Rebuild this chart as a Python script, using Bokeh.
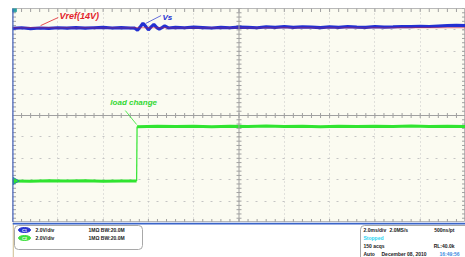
import numpy as np
from bokeh.plotting import figure
from bokeh.layouts import column
from bokeh.models import Range1d, FixedTicker, Span, Label, Arrow
from bokeh.embed import file_html
from bokeh.resources import INLINE

# ---------------- data (time in divisions 0..10, amplitude in divisions -5..5) ----------------
vs_t = [0.00, 0.20, 0.40, 0.60, 0.80, 1.00, 1.20, 1.40, 1.60, 1.80, 2.00, 2.20, 2.40, 2.60,
        2.70, 2.76, 2.83, 2.88, 2.95, 3.00, 3.06, 3.12, 3.18, 3.24, 3.30, 3.36, 3.44,
        3.60, 3.80, 4.00, 4.20, 4.40, 4.60, 4.80, 5.00, 5.20, 5.40, 5.60, 5.80, 6.00,
        6.20, 6.40, 6.60, 6.80, 7.00, 7.20, 7.40, 7.60, 7.80, 8.00, 8.20, 8.40, 8.60,
        8.80, 9.00, 9.20, 9.40, 9.60, 9.80, 10.00]
vs_v = [4.07, 4.10, 4.06, 4.09, 4.07, 4.10, 4.08, 4.11, 4.08, 4.10, 4.12, 4.09, 4.11, 4.09,
        4.08, 3.99, 4.17, 4.31, 4.14, 4.00, 4.14, 4.26, 4.12, 4.04, 4.11, 4.19, 4.09,
        4.12, 4.10, 4.13, 4.11, 4.09, 4.12, 4.10, 4.13, 4.12, 4.10, 4.14, 4.12, 4.15,
        4.12, 4.14, 4.13, 4.11, 4.14, 4.12, 4.15, 4.13, 4.12, 4.15, 4.13, 4.14, 4.16,
        4.15, 4.17, 4.16, 4.18, 4.20, 4.21, 4.20]

vref_t = [0.00, 10.00]
vref_v = [4.10, 4.10]

load_t = [0.00, 0.40, 0.80, 1.20, 1.60, 2.00, 2.40, 2.74, 2.75, 3.20, 3.60, 4.00, 4.40,
          4.80, 5.20, 5.60, 6.00, 6.40, 6.80, 7.20, 7.60, 8.00, 8.40, 8.80, 9.20, 9.60, 10.00]
load_v = [-3.06, -3.07, -3.05, -3.06, -3.05, -3.07, -3.06, -3.06, -0.52, -0.50, -0.51,
          -0.50, -0.52, -0.50, -0.51, -0.49, -0.51, -0.50, -0.52, -0.50, -0.51, -0.50,
          -0.51, -0.49, -0.51, -0.50, -0.51]
load_step_index = 7   # last sample before the load step

ch_labels = ["C1", "C2"]
ch_scale = ["2.0V/div", "2.0V/div"]
ch_input = ["1MΩ  BW:20.0M", "1MΩ  BW:20.0M"]

FONT = "Liberation Sans"
BLUE = "#2430d2"
RED = "#e2222a"
GREEN = "#30e430"
GRID = "#c4c4c4"
TICK = "#a0a0a0"

# ---------------- main scope screen ----------------
p = figure(width=465, height=222, x_range=Range1d(0, 10), y_range=Range1d(-5, 5),
           toolbar_location=None, output_backend="svg",
           x_axis_location=None, y_axis_location=None,
           min_border_left=12, min_border_right=0, min_border_top=8, min_border_bottom=0)
p.background_fill_color = "#fbfbf1"
p.border_fill_color = "white"
p.outline_line_color = "#b8b8b8"

p.xgrid.ticker = FixedTicker(ticks=[1, 2, 3, 4, 6, 7, 8, 9])
p.xgrid.grid_line_color = GRID
p.xgrid.grid_line_dash = "1 3"
p.ygrid.ticker = FixedTicker(ticks=[-4, -3, -2, -1, 1, 2, 3, 4])
p.ygrid.grid_line_color = GRID
p.ygrid.grid_line_dash = "2 7"

p.add_layout(Span(location=5, dimension="height", line_color=TICK, line_width=1))
p.add_layout(Span(location=0, dimension="width", line_color=TICK, line_width=1))

hx = np.arange(0, 10.001, 0.2)
vy = np.arange(-5, 5.001, 0.2)
p.scatter(hx, np.zeros_like(hx), marker="dash", angle=np.pi / 2, size=5, line_color=TICK)
p.scatter(hx, np.full_like(hx, 5.0), marker="dash", angle=np.pi / 2, size=7, line_color=TICK)
p.scatter(hx, np.full_like(hx, -5.0), marker="dash", angle=np.pi / 2, size=7, line_color=TICK)
p.scatter(np.full_like(vy, 5.0), vy, marker="dash", size=5, line_color=TICK)
p.scatter(np.full_like(vy, 10.0), vy, marker="dash", size=7, line_color=TICK)
p.scatter(np.full_like(vy, 0.0), vy, marker="dash", size=7, line_color=TICK)

p.add_layout(Span(location=0, dimension="height", line_color="#3a5fcd", line_width=2))

# traces
p.line(vs_t, vs_v, line_color=BLUE, line_width=3.2)
p.line(vref_t, vref_v, line_color=RED, line_width=1, line_alpha=0.55)
p.line(vs_t, vs_v, line_color=BLUE, line_width=1, line_alpha=0.6)
k = load_step_index
p.line(load_t[:k + 1], load_v[:k + 1], line_color=GREEN, line_width=3)
p.line(load_t[k:k + 2], load_v[k:k + 2], line_color=GREEN, line_width=1.2)
p.line(load_t[k + 1:], load_v[k + 1:], line_color=GREEN, line_width=3)

# ground markers
p.scatter([0.06], [load_v[0]], marker="triangle", angle=-np.pi / 2, size=7,
          fill_color=GREEN, line_color="#2a8aa0")
p.scatter([0.04], [4.94], marker="square", size=4, fill_color="#2aa0a0", line_color="#2aa0a0")

# annotations
p.add_layout(Arrow(end=None, x_start=0.62, y_start=4.20, x_end=1.01, y_end=4.58,
                   line_color=RED, line_width=1, line_alpha=0.8))
p.add_layout(Label(x=1.04, y=4.64, text="Vref(14V)", text_color=RED, text_font=FONT,
                   text_font_style="bold italic", text_font_size="9px", text_baseline="middle"))
p.add_layout(Arrow(end=None, x_start=2.94, y_start=4.30, x_end=3.28, y_end=4.67,
                   line_color=BLUE, line_width=1, line_alpha=0.7))
p.add_layout(Label(x=3.31, y=4.60, text="Vs", text_color=BLUE, text_font=FONT,
                   text_font_style="bold italic", text_font_size="8px", text_baseline="middle"))
p.add_layout(Arrow(end=None, x_start=2.49, y_start=0.23, x_end=2.74, y_end=-0.42,
                   line_color=GREEN, line_width=1, line_alpha=0.8))
p.add_layout(Label(x=2.16, y=0.61, text="load change", text_color="#33d833", text_font=FONT,
                   text_font_style="bold italic", text_font_size="8px", text_baseline="middle"))

# ---------------- info panel below (frame aligned with the screen above) ----------------
q = figure(width=465, height=35, x_range=Range1d(12, 465), y_range=Range1d(257, 222),
           toolbar_location=None, output_backend="svg",
           x_axis_location=None, y_axis_location=None,
           min_border_left=12, min_border_right=0, min_border_top=0, min_border_bottom=0)
q.grid.visible = False
q.outline_line_color = None
q.background_fill_color = "white"
q.border_fill_color = "white"

q.segment(x0=[12.7], y0=[222], x1=[12.7], y1=[257], line_color="#d8c9a4", line_width=1.5)
q.segment(x0=[12], y0=[223], x1=[465], y1=[223], line_color="#3a64c8", line_width=2)

q.quad(left=[14], right=[142], top=[225], bottom=[249], fill_color="white",
       line_color="#a8a8a8", line_width=1, border_radius=4)
q.quad(left=[360], right=[470], top=[225], bottom=[262], fill_color="white",
       line_color="#a8a8a8", line_width=1, border_radius=4)

row_y = [229.5, 237.5]
pill_col = ["#2a36d0", "#3ee03e"]
q.ellipse(x=[24, 24], y=row_y, width=12, height=5, fill_color=pill_col, line_color=pill_col)
for i in range(2):
    q.add_layout(Label(x=24, y=row_y[i], text=ch_labels[i], text_color="white", text_font=FONT,
                       text_font_style="bold", text_font_size="4px",
                       text_align="center", text_baseline="middle"))
    q.add_layout(Label(x=35, y=row_y[i], text=ch_scale[i], text_color="#222222", text_font=FONT,
                       text_font_style="bold", text_font_size="5px", text_baseline="middle"))
    q.add_layout(Label(x=88, y=row_y[i], text=ch_input[i], text_color="#222222", text_font=FONT,
                       text_font_style="bold", text_font_size="5px", text_baseline="middle"))

def info(x, y, t, c="#222222", align="left"):
    q.add_layout(Label(x=x, y=y, text=t, text_color=c, text_font=FONT, text_font_style="bold",
                       text_font_size="5px", text_baseline="middle", text_align=align))

info(363, 229.5, "2.0ms/div")
info(389, 229.5, "2.0MS/s")
info(454, 229.5, "500ns/pt", align="right")
info(363, 237.5, "Stopped", c="#2ad4f2")
info(363, 245.5, "150 acqs")
info(454, 245.5, "RL:40.0k", align="right")
info(363, 253, "Auto")
info(381, 253, "December 08, 2010")
info(439, 253, "16:49:56", c="#3a8ae0")

layout = column(p, q, spacing=0)
open("out.html", "w").write(file_html(layout, INLINE))
